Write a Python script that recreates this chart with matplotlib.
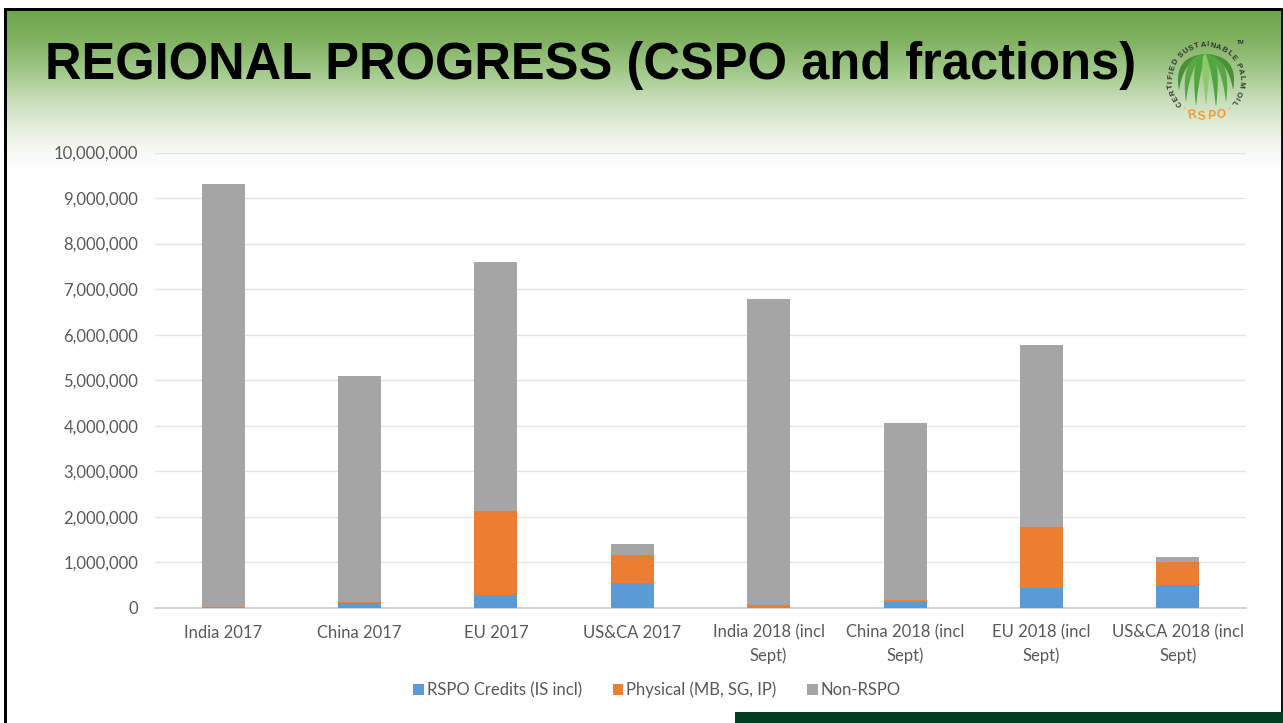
import numpy as np
import matplotlib
matplotlib.use('Agg')
import matplotlib.pyplot as plt
from matplotlib.patches import Rectangle, Polygon
from matplotlib.ticker import FuncFormatter

# Data
categories = ['India 2017', 'China 2017', 'EU 2017', 'US&CA 2017',
              'India 2018 (incl\nSept)', 'China 2018 (incl\nSept)',
              'EU 2018 (incl\nSept)', 'US&CA 2018 (incl\nSept)']
credits = [5000, 100000, 280000, 550000, 5000, 130000, 440000, 510000]
physical = [15000, 25000, 1850000, 610000, 60000, 50000, 1330000, 500000]
non_rspo = [9280000, 4975000, 5470000, 240000, 6725000, 3880000, 4010000, 110000]
yticks = list(range(0, 10000001, 1000000))

W, H = 1283, 723
plt.rcParams['font.family'] = ['Lato', 'DejaVu Sans']
fig = plt.figure(figsize=(W / 100, H / 100), dpi=100, facecolor='white')

# Slide background in pixel coordinates
bg = fig.add_axes([0, 0, 1, 1])
bg.axis('off')

# Green header gradient
py = np.array([10, 40, 70, 100, 130, 150, 170])
r = np.array([109, 128, 160, 200, 232, 246, 255])
g = np.array([166, 178, 200, 222, 240, 249, 255])
b = np.array([76, 96, 136, 186, 224, 243, 255])
rows = np.arange(10, 171)
grad = np.stack([np.interp(rows, py, r), np.interp(rows, py, g), np.interp(rows, py, b)], axis=1) / 255
bg.imshow(grad[:, None, :], extent=[6, 1281, 171, 10], aspect='auto', zorder=1)
bg.set_xlim(0, W)
bg.set_ylim(H, 0)

# Frame and dark footer block
bg.add_patch(Rectangle((4, 8), 3, H - 8, color='black', lw=0, zorder=3))
bg.add_patch(Rectangle((4, 8), 1277, 2.5, color='black', lw=0, zorder=3))
bg.add_patch(Rectangle((1280.5, 8), 2.5, H - 8, color='#111111', lw=0, zorder=3))
bg.add_patch(Rectangle((735, 712), W - 735, 11, color='#003d21', lw=0, zorder=3))

bg.text(45, 78.5, 'REGIONAL PROGRESS (CSPO and fractions)', family='Liberation Sans',
        fontweight='bold', fontsize=36.47, color='black', va='baseline', ha='left', zorder=4)

# RSPO logo
cx, cy = 1206, 80
ring = 'CERTIFIED SUSTAINABLE PALM OIL'
weights = np.array([0.55 if ch in 'I ' else 1.15 if ch == 'M' else 1.0 for ch in ring])
edges = np.cumsum(weights) - weights / 2
angles = 220 - (edges - edges[0]) / (edges[-1] - edges[0]) * 258
for ch, a in zip(ring, angles):
    t = np.radians(a)
    bg.text(cx + 35 * np.cos(t), cy - 35 * np.sin(t), ch, fontsize=5.6, fontweight='bold',
            family='Liberation Sans', color='#333333', rotation=a - 90,
            ha='center', va='center', zorder=4)
bg.text(1241, 43, 'TM', fontsize=3.8, fontweight='bold', family='Liberation Sans',
        color='#333333', ha='center', va='center', zorder=4)
for ch, dx, dy, rot in [('R', -14, 35, 10), ('S', -5, 36.5, 3), ('P', 5, 36.5, -3), ('O', 15, 35, -10)]:
    bg.text(cx + dx, cy + dy, ch, fontsize=8.5, fontweight='bold', family='Liberation Sans',
            color='#f59a2e', rotation=rot, ha='center', va='center', zorder=4)
bg.text(cx - 22, cy + 30, '*', fontsize=5, color='#f59a2e', ha='center', va='center', zorder=4)
bg.text(cx + 23, cy + 30, '*', fontsize=5, color='#f59a2e', ha='center', va='center', zorder=4)

# Palm fronds
frond_tips = [(-27, 9), (-20, 21), (-10, 25), (0, 24), (10, 26), (20, 21), (27, 9)]
frond_cols = ['#4b8f3a', '#55a843', '#4fa63e', '#8cc96a', '#4fa63e', '#55a843', '#4b8f3a']
top = -26
for (tx, ty), col in zip(frond_tips, frond_cols):
    s = np.linspace(0, 1, 30)
    ox = 2 * s * (1 - s) * tx * 1.0 + s ** 2 * tx
    oy = top * (1 - s) ** 2 + 2 * s * (1 - s) * (top + 3) + s ** 2 * ty
    w = 3.4 * np.sin(np.pi * s ** 0.8) ** 0.9 + 0.2
    left = np.c_[cx + ox - w, cy + oy]
    right = np.c_[cx + ox + w, cy + oy][::-1]
    bg.add_patch(Polygon(np.r_[left, right], closed=True, color=col, lw=0, zorder=4))

# Chart
ax = fig.add_axes([155 / W, (H - 608) / H, 1091 / W, 455.5 / H])
ax.patch.set_alpha(0)
x = np.arange(len(categories))
bottom2 = np.array(credits)
bottom3 = bottom2 + np.array(physical)
bar_w = 0.315
ax.bar(x, credits, bar_w, color='#5b9bd5', label='RSPO Credits (IS incl)', zorder=3)
ax.bar(x, physical, bar_w, bottom=bottom2, color='#ed7d31', label='Physical (MB, SG, IP)', zorder=3)
ax.bar(x, non_rspo, bar_w, bottom=bottom3, color='#a5a5a5', label='Non-RSPO', zorder=3)

ax.set_xlim(-0.5, len(categories) - 0.5)
ax.set_ylim(0, 10000000)
ax.set_yticks(yticks)
ax.yaxis.set_major_formatter(FuncFormatter(lambda v, p: format(int(v), ',')))
ax.set_xticks(x)
ax.set_xticklabels(categories, linespacing=1.5)
ax.grid(axis='y', color='#e4e4e4', linewidth=1.0, zorder=0)
ax.set_axisbelow(True)
for side in ['top', 'right', 'left']:
    ax.spines[side].set_visible(False)
ax.spines['bottom'].set_color('#d0d0d0')
ax.spines['bottom'].set_linewidth(1.3)
ax.tick_params(axis='both', length=0, labelsize=12, labelcolor='#595959')
ax.tick_params(axis='x', pad=12)
ax.tick_params(axis='y', pad=12)

ax.legend(loc='center', bbox_to_anchor=(0.46, (608 - 690) / 455.5), ncol=3, frameon=False,
          fontsize=12, labelcolor='#595959', handlelength=0.65, handleheight=0.65,
          handletextpad=0.15, columnspacing=1.85, borderpad=0)

fig.savefig('out.png', dpi=100, facecolor='white')
